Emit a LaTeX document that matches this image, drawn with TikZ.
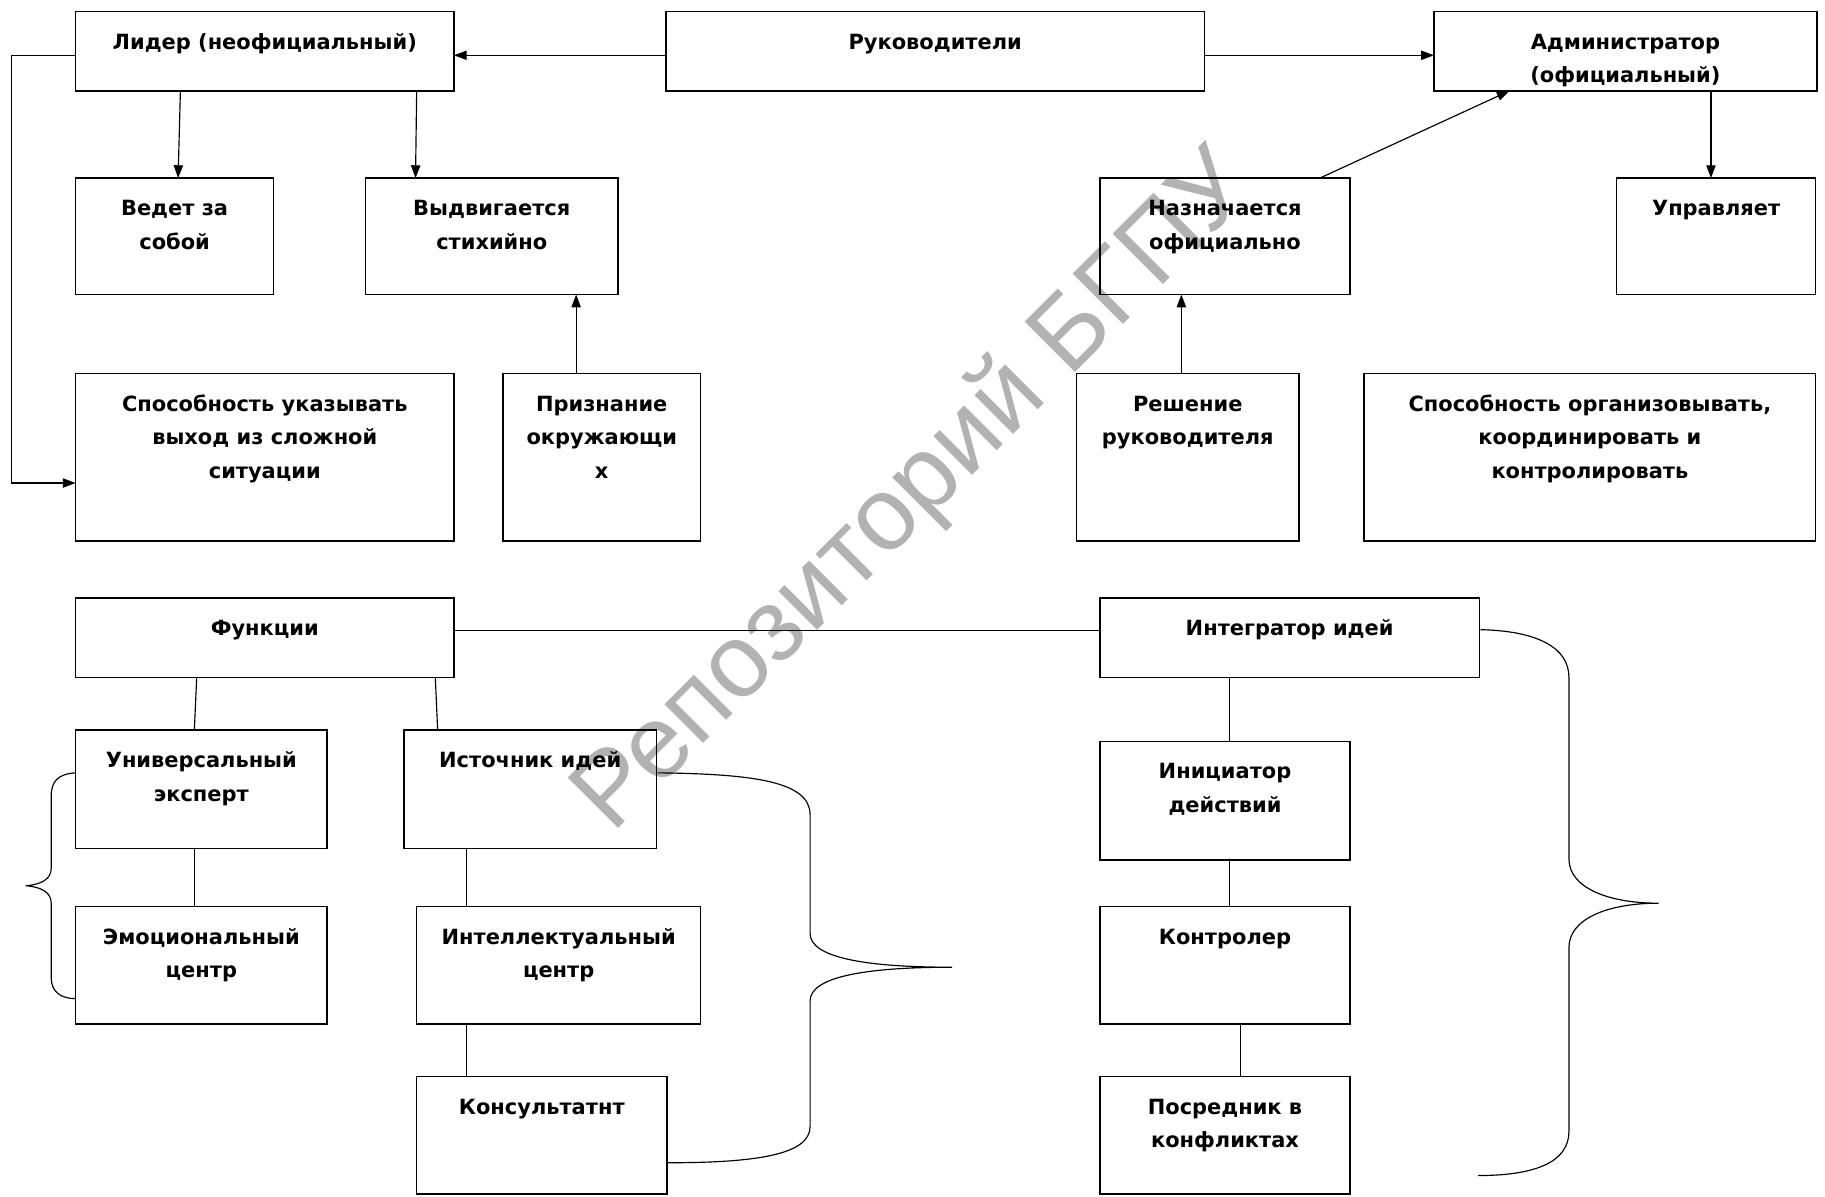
\documentclass[tikz,border=0pt]{standalone}
\usepackage{fontspec}
\setmainfont{DejaVu Sans}
\newfontfamily\wmfont{Liberation Sans}
\usetikzlibrary{arrows.meta}
\tikzset{
  box/.style={draw, line width=1.3pt, inner sep=0pt, outer sep=0pt},
  txt/.style={inner sep=0pt, align=center, font=\fontsize{18}{29}\selectfont\bfseries},
  arr/.style={line width=1pt, -{Triangle[length=11pt,width=8pt]}},
  ln/.style={line width=1pt},
  brace/.style={line width=1pt},
  wmark/.style={rotate=45, text=black!30, inner sep=0pt, font=\wmfont\fontsize{89}{89}\selectfont}
}
\newcommand\bx[6]{%
  \node[box, minimum width={(#4-#2)*1pt}, minimum height={(#5-#3)*1pt}] (#1) at ({(#2+#4)/2},{(#3+#5)/2}) {};
  \node[txt, anchor=north] (#1-t) at ([yshift=-11.7pt]#1.north) {\strut #6};}
\begin{document}
\begin{tikzpicture}[x=1pt,y=-1pt]
\useasboundingbox[fill=white] (0,0) rectangle (1568,1027.6);
\node[wmark] (wm) at (786,424) {Репозиторий БГПУ};
% top row
\bx{lid}{65}{10}{390}{78}{Лидер (неофициальный)}
\bx{ruk}{572}{10}{1035}{78}{Руководители}
\bx{adm}{1232}{10}{1561}{78}{Администратор\\(официальный)}
% second row
\bx{ved}{65}{153}{235}{253}{Ведет за\\собой}
\bx{vyd}{314}{153}{531}{253}{Выдвигается\\стихийно}
\bx{naz}{945}{153}{1160}{253}{Назначается\\официально}
\bx{upr}{1389}{153}{1560}{253}{Управляет}
% third row
\bx{spu}{65}{321}{390}{465}{Способность указывать\\выход из сложной\\ситуации}
\bx{pri}{432}{321}{602}{465}{Признание\\окружающи\\х}
\bx{res}{925}{321}{1116}{465}{Решение\\руководителя}
\bx{spo}{1172}{321}{1560}{465}{Способность организовывать,\\координировать и\\контролировать}
% lower part
\bx{fun}{65}{514}{390}{582}{Функции}
\bx{itg}{945}{514}{1271}{582}{Интегратор идей}
\bx{uni}{65}{627}{281}{729}{Универсальный\\эксперт}
\bx{emo}{65}{779}{281}{880}{Эмоциональный\\центр}
\bx{ist}{347}{627}{564}{729}{Источник идей}
\bx{int}{358}{779}{602}{880}{Интеллектуальный\\центр}
\bx{kon}{358}{925}{573}{1026}{Консультатнт}
\bx{ini}{945}{637}{1160}{739}{Инициатор\\действий}
\bx{ktr}{945}{779}{1160}{880}{Контролер}
\bx{pos}{945}{925}{1160}{1026}{Посредник в\\конфликтах}
% arrows
\draw[arr] ([yshift=-3.5pt]ruk.west) -- ([yshift=-3.5pt]lid.east);
\draw[arr] ([yshift=-3.5pt]ruk.east) -- ([yshift=-3.5pt]adm.west);
\draw[arr] ([xshift=90pt]lid.south west) -- ([xshift=88pt]ved.north west);
\draw[arr] ([xshift=293pt]lid.south west) -- ([xshift=43pt]vyd.north west);
\draw[arr] ([yshift=-3.5pt]lid.west) -- ++(-55,0) |- ([yshift=-22pt]spu.west);
\draw[arr] ([xshift=63pt]pri.north west) -- ([xshift=181pt]vyd.south west);
\draw[arr] ([xshift=189pt]naz.north west) -- ([xshift=65pt]adm.south west);
\draw[arr] ([xshift=238pt]adm.south west) -- ([xshift=81pt]upr.north west);
\draw[arr] ([xshift=90pt]res.north west) -- ([xshift=70pt]naz.south west);
% plain lines
\draw[ln] ([yshift=6.5pt]fun.east) -- ([yshift=6.5pt]itg.west);
\draw[ln] ([xshift=104pt]fun.south west) -- ([xshift=102pt]uni.north west);
\draw[ln] ([xshift=309pt]fun.south west) -- ([xshift=29pt]ist.north west);
\draw[ln] ([xshift=102pt]uni.south west) -- ([xshift=102pt]emo.north west);
\draw[ln] ([xshift=54pt]ist.south west) -- ([xshift=43pt]int.north west);
\draw[ln] ([xshift=43pt]int.south west) -- ([xshift=43pt]kon.north west);
\draw[ln] ([xshift=111pt]itg.south west) -- ([xshift=111pt]ini.north west);
\draw[ln] ([xshift=111pt]ini.south west) -- ([xshift=111pt]ktr.north west);
\draw[ln] ([xshift=121pt]ktr.south west) -- ([xshift=121pt]pos.north west);
% braces
\draw[brace] (65,664) .. controls (50,665) and (44,671) .. (44,684) -- (44,746)
  .. controls (44,755) and (36,760) .. (22,761)
  .. controls (36,762) and (44,767) .. (44,776) -- (44,840)
  .. controls (44,852) and (52,858) .. (65,858);
\draw[brace] (565,664) .. controls (650,665) and (696,672) .. (696,700) -- (696,802)
  .. controls (696,822) and (740,831) .. (818,831)
  .. controls (740,831) and (696,840) .. (696,860) -- (696,968)
  .. controls (696,992) and (650,999) .. (574,999);
\draw[brace] (1272,541) .. controls (1320,542) and (1348,556) .. (1348,582) -- (1348,738)
  .. controls (1348,762) and (1380,776) .. (1425,776)
  .. controls (1380,776) and (1348,790) .. (1348,814) -- (1348,972)
  .. controls (1348,998) and (1320,1010) .. (1270,1010);
\end{tikzpicture}
\end{document}
